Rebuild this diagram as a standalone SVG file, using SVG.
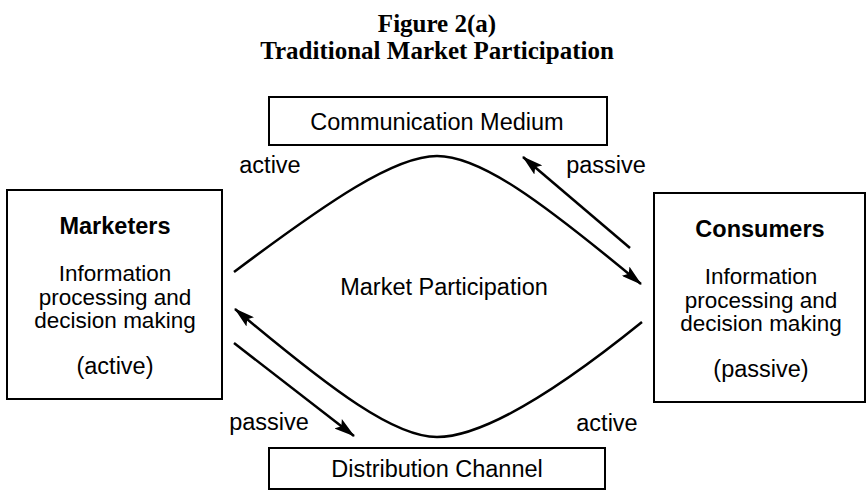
<svg xmlns="http://www.w3.org/2000/svg" width="867" height="496" viewBox="0 0 867 496">
<defs>
<marker id="ah" viewBox="0 0 21 12" refX="20" refY="6" markerWidth="21" markerHeight="12" markerUnits="userSpaceOnUse" orient="auto">
<path d="M0,0 L21,6 L0,12 L4,6 Z" fill="#000"/>
</marker>
<style>
.box{fill:#fff;stroke:#000;stroke-width:2}
.t{font-family:"Liberation Sans",Arial,sans-serif;font-size:23.5px;fill:#000;text-anchor:middle}
.s{font-size:22.5px}
.b{font-weight:bold}
.title{font-family:"Liberation Serif","Times New Roman",serif;font-size:25px;font-weight:bold;text-anchor:middle;fill:#000}
.c{fill:none;stroke:#000;stroke-width:2.5}
</style>
</defs>
<rect width="867" height="496" fill="#fff"/>
<g id="title">
<text class="title" x="437" y="32">Figure 2(a)</text>
<text class="title" x="437" y="58.5">Traditional Market Participation</text>
</g>
<g id="communication-medium">
<rect class="box" x="269" y="97" width="338" height="48"/>
<text class="t" x="437" y="130">Communication Medium</text>
</g>
<g id="distribution-channel">
<rect class="box" x="269" y="448" width="336" height="41"/>
<text class="t" x="437" y="477">Distribution Channel</text>
</g>
<g id="marketers">
<rect class="box" x="7" y="190" width="215" height="209"/>
<text class="t b" x="115" y="234">Marketers</text>
<text class="t s" x="115" y="281">Information</text>
<text class="t s" x="115" y="304.5">processing and</text>
<text class="t s" x="115" y="328">decision making</text>
<text class="t" x="115" y="374">(active)</text>
</g>
<g id="consumers">
<rect class="box" x="654" y="193" width="211" height="209"/>
<text class="t b" x="760" y="237">Consumers</text>
<text class="t s" x="761" y="284">Information</text>
<text class="t s" x="761" y="307.5">processing and</text>
<text class="t s" x="761" y="331">decision making</text>
<text class="t" x="761" y="377">(passive)</text>
</g>
<g id="market-participation">
<text class="t" x="444" y="295">Market Participation</text>
</g>
<g id="connectors">
<path class="c" d="M234,272 C330,200 395,156 437,156 C480,156 540,200 641,284" marker-end="url(#ah)"/>
<path class="c" d="M630,248 L523,157" marker-end="url(#ah)"/>
<path class="c" d="M642,322 C548,398 480,437 437,437 C395,437 335,393 235,309" marker-end="url(#ah)"/>
<path class="c" d="M234,343 L354,436" marker-end="url(#ah)"/>
</g>
<g id="labels">
<text class="t" x="270" y="173">active</text>
<text class="t" x="606" y="173">passive</text>
<text class="t" x="269" y="430">passive</text>
<text class="t" x="607" y="431">active</text>
</g>
</svg>
